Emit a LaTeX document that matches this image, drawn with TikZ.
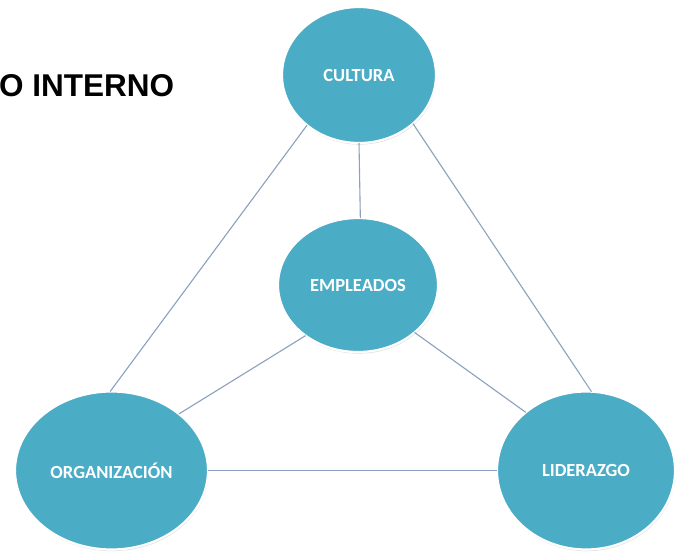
\documentclass[tikz,border=0pt]{standalone}
\usepackage{fontspec}
\setmainfont{Liberation Sans}
\newfontfamily\calfont{Carlito}
\usetikzlibrary{shapes.geometric,shadows}
\definecolor{aqua}{RGB}{75,172,198}
\definecolor{linkc}{RGB}{140,160,192}
\tikzset{
  bubble/.style={ellipse, fill=aqua, draw=white, line width=2.2pt, inner sep=0pt, outer sep=0pt,
    text=white, font=\calfont\bfseries\fontsize{18.5}{20}\selectfont,
    drop shadow={shadow xshift=0.6pt, shadow yshift=-1.6pt, opacity=0.22, fill=black!60}},
  link/.style={draw=linkc, line width=1.1pt}
}
\begin{document}
\begin{tikzpicture}[x=1pt,y=-1pt]
\useasboundingbox (0,0) rectangle (676,552);
\fill[white] (0,0) rectangle (676,552);
\node[anchor=base west, inner sep=0pt, font=\bfseries\fontsize{31.5}{34}\selectfont] (title) at (-1,96) {O INTERNO};
\node[bubble, minimum width=154pt, minimum height=136pt] (cul) at (359,75) {CULTURA};
\node[bubble, minimum width=160pt, minimum height=134pt] (emp) at (358,285) {EMPLEADOS};
\node[bubble, minimum width=193pt, minimum height=158pt] (org) at (111.5,470.5) {ORGANIZACIÓN};
\node[bubble, minimum width=178pt, minimum height=158pt] (lid) at (586,470.5) {LIDERAZGO};
\draw[link] (cul.270.5) -- (emp.88);
\draw[link] (cul.224) -- (org.91);
\draw[link] (cul.318) -- (lid.86);
\draw[link] (emp.224.5) -- (org.40);
\draw[link] (emp.320) -- (lid.136.5);
\draw[link] (org.east) -- (lid.west);
\end{tikzpicture}
\end{document}
